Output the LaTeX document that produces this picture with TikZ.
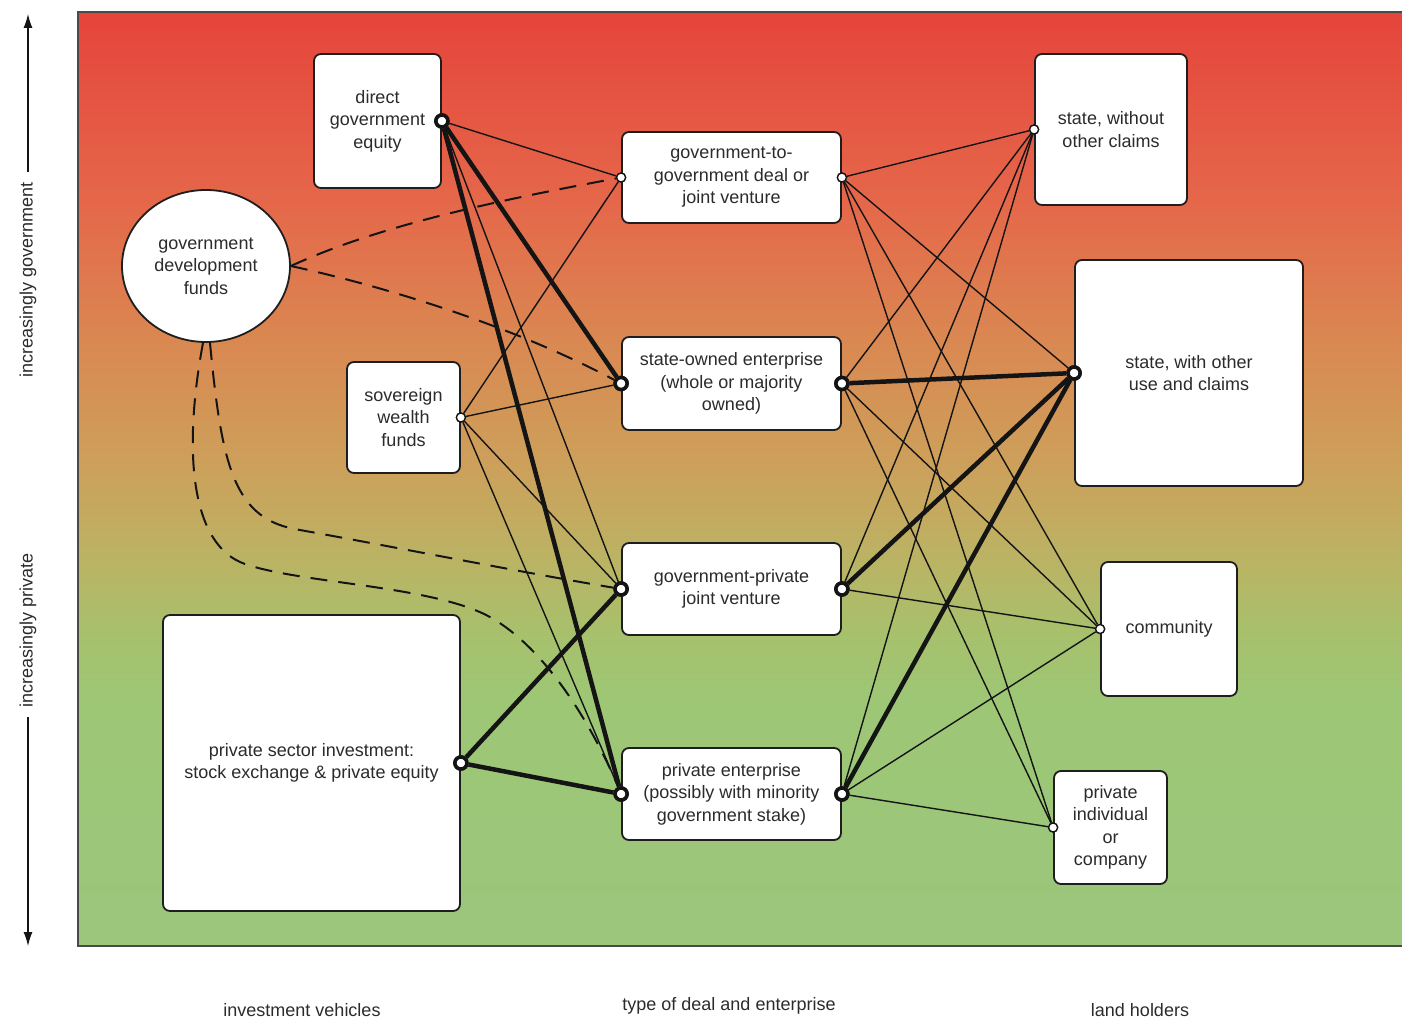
\documentclass[tikz,border=0pt]{standalone}
\usepackage{fontspec}
\setmainfont{Liberation Sans}
\usetikzlibrary{shapes.geometric,arrows.meta}
\definecolor{cA}{HTML}{E5443B}
\definecolor{cB}{HTML}{E5674A}
\definecolor{cC}{HTML}{D98A52}
\definecolor{cD}{HTML}{CCA15B}
\definecolor{cE}{HTML}{BBB364}
\definecolor{cF}{HTML}{A8C06C}
\definecolor{cG}{HTML}{9DC775}
\definecolor{cH}{HTML}{9BC67C}
\definecolor{boxcol}{HTML}{1E1E1E}
\definecolor{linecol}{HTML}{141414}
\definecolor{txtcol}{HTML}{2B2B2B}
\definecolor{framecol}{HTML}{4A4A4A}
\pgfdeclareverticalshading{bgshade}{100bp}{color(0bp)=(cH); color(25bp)=(cH); color(38.2bp)=(cG); color(41.9bp)=(cF); color(45.7bp)=(cE); color(50.5bp)=(cD); color(56.9bp)=(cC); color(64.9bp)=(cB); color(75bp)=(cA); color(100bp)=(cA)}
\newcommand\boxfont{\fontsize{18}{22.5}\selectfont}
\begin{document}
\begin{tikzpicture}[x=1pt,y=-1pt,
  box/.style={draw=boxcol, line width=1.8pt, fill=white, rounded corners=7pt, align=center, font=\boxfont, text=txtcol, inner sep=0pt},
  ellbox/.style={ellipse, draw=boxcol, line width=1.8pt, fill=white, align=center, font=\boxfont, text=txtcol, inner sep=0pt},
  tport/.style={circle, draw=linecol, fill=white, line width=1.3pt, minimum size=9pt, inner sep=0pt},
  kport/.style={circle, draw=linecol, fill=white, line width=3.5pt, minimum size=12pt, inner sep=0pt},
  thinline/.style={draw=linecol, line width=1.4pt},
  thickline/.style={draw=linecol, line width=4.5pt},
  dashline/.style={draw=linecol, line width=2pt, dash pattern=on 17pt off 11pt},
  lbl/.style={font=\boxfont, text=txtcol, inner sep=0pt}
]
\useasboundingbox (0,0) rectangle (1402,1019);
\shade[shading=bgshade] (78,12) rectangle (1402,946);
\draw[framecol, line width=1.6pt] (1402,12) -- (78,12) -- (78,946) -- (1402,946);

% boxes
\node[box, minimum width=127pt, minimum height=134pt] (dge) at (377.5,121) {direct\\government\\equity};
\node[box, minimum width=113pt, minimum height=111pt] (swf) at (403.5,417.5) {sovereign\\wealth\\funds};
\node[box, minimum width=297pt, minimum height=296pt] (psi) at (311.5,763) {private sector investment:\\stock exchange \& private equity};
\node[ellbox, minimum width=168pt, minimum height=152pt] (gdf) at (206,266) {government\\development\\funds};
\node[box, minimum width=219pt, minimum height=91pt] (g2g) at (731.5,177.5) {government-to-\\government deal or\\joint venture};
\node[box, minimum width=219pt, minimum height=93pt] (soe) at (731.5,383.5) {state-owned enterprise\\(whole or majority\\owned)};
\node[box, minimum width=219pt, minimum height=92pt] (gpjv) at (731.5,589) {government-private\\joint venture};
\node[box, minimum width=219pt, minimum height=92pt] (pe) at (731.5,794) {private enterprise\\(possibly with minority\\government stake)};
\node[box, minimum width=152pt, minimum height=151pt] (swoc) at (1111,129.5) {state, without\\other claims};
\node[box, minimum width=228pt, minimum height=226pt] (swuc) at (1189,373) {state, with other\\use and claims};
\node[box, minimum width=136pt, minimum height=134pt] (comm) at (1169,629) {community};
\node[box, minimum width=113pt, minimum height=113pt] (pic) at (1110.5,827.5) {private\\individual\\or\\company};

% ports
\node[kport] (pdge) at (dge.east) {};
\node[tport] (pswf) at (swf.east) {};
\node[kport] (ppsi) at (psi.east) {};
\node[tport] (pg2gL) at (g2g.west) {};
\node[tport] (pg2gR) at (g2g.east) {};
\node[kport] (psoeL) at (soe.west) {};
\node[kport] (psoeR) at (soe.east) {};
\node[kport] (pgpjvL) at (gpjv.west) {};
\node[kport] (pgpjvR) at (gpjv.east) {};
\node[kport] (ppeL) at (pe.west) {};
\node[kport] (ppeR) at (pe.east) {};
\node[tport] (pswoc) at (swoc.west) {};
\node[kport] (pswuc) at (swuc.west) {};
\node[tport] (pcomm) at (comm.west) {};
\node[tport] (ppic) at (pic.west) {};

% left connectors
\draw[thinline] (pdge) -- (pg2gL);
\draw[thinline] (pdge) -- (pgpjvL);
\draw[thickline] (pdge) -- (psoeL);
\draw[thickline] (pdge) -- (ppeL);
\draw[thinline] (pswf) -- (pg2gL);
\draw[thinline] (pswf) -- (psoeL);
\draw[thinline] (pswf) -- (pgpjvL);
\draw[thinline] (pswf) -- (ppeL);
\draw[thickline] (ppsi) -- (pgpjvL);
\draw[thickline] (ppsi) -- (ppeL);

% dashed connectors from development funds
\draw[dashline] (gdf.east) .. controls (380,225) and (500,200) .. (pg2gL);
\draw[dashline] (gdf.east) .. controls (400,290) and (520,330) .. (psoeL);
\draw[dashline] ([xshift=4pt]gdf.south) .. controls (222,470) and (235,520) .. (300,530) .. controls (400,548) and (520,572) .. (pgpjvL);
\draw[dashline] ([xshift=-3pt]gdf.south) .. controls (183,450) and (190,545) .. (245,564) .. controls (300,583) and (420,585) .. (482,613) .. controls (540,640) and (590,720) .. (ppeL);

% right connectors
\draw[thinline] (pg2gR) -- (pswoc);
\draw[thinline] (pg2gR) -- (pswuc);
\draw[thinline] (pg2gR) -- (pcomm);
\draw[thinline] (pg2gR) -- (ppic);
\draw[thinline] (psoeR) -- (pswoc);
\draw[thickline] (psoeR) -- (pswuc);
\draw[thinline] (psoeR) -- (pcomm);
\draw[thinline] (psoeR) -- (ppic);
\draw[thinline] (pgpjvR) -- (pswoc);
\draw[thickline] (pgpjvR) -- (pswuc);
\draw[thinline] (pgpjvR) -- (pcomm);
\draw[thinline] (ppeR) -- (pswoc);
\draw[thickline] (ppeR) -- (pswuc);
\draw[thinline] (ppeR) -- (pcomm);
\draw[thinline] (ppeR) -- (ppic);

% redraw ports on top
\foreach \p in {pdge,ppsi,psoeL,psoeR,pgpjvL,pgpjvR,ppeL,ppeR,pswuc}
  \draw[linecol, line width=3.5pt, fill=white] (\p.center) circle (6pt);
\foreach \p in {pswf,pg2gL,pg2gR,pswoc,pcomm,ppic}
  \draw[linecol, line width=1.3pt, fill=white] (\p.center) circle (4.5pt);

% axis on the left
\node[lbl, rotate=90] (govlbl) at (28,280) {increasingly government};
\node[lbl, rotate=90] (privlbl) at (28,630) {increasingly private};
\coordinate (govtip) at (28,14);
\coordinate (privtip) at (28,946);
\draw[linecol, line width=1.3pt, -{Latex[length=14pt,width=9pt]}] (govlbl.east) ++(0,-10) -- (govtip);
\draw[linecol, line width=1.3pt, -{Latex[length=14pt,width=9pt]}] (privlbl.west) ++(0,10) -- (privtip);

% bottom labels
\node[lbl] (lv) at (302,1010) {investment vehicles};
\node[lbl] (ld) at (729,1006) {type of deal and enterprise};
\node[lbl] (lh) at (1140,1010) {land holders};
\end{tikzpicture}
\end{document}
